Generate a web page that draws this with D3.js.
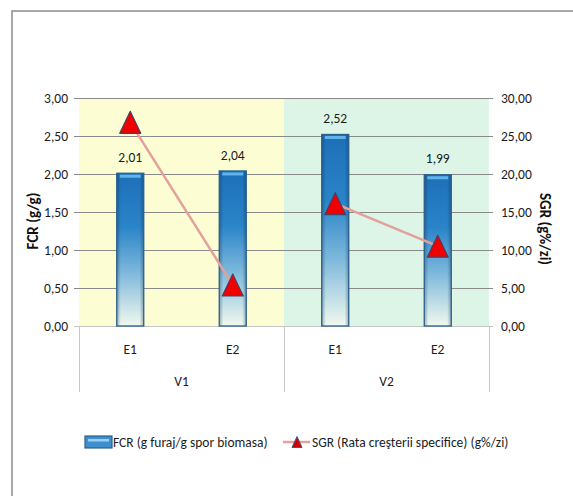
<!DOCTYPE html>
<html>
<head>
<meta charset="utf-8">
<script src="https://cdn.jsdelivr.net/npm/d3@7"></script>
<style>
  body { margin: 0; background: #fff; }
  svg { display: block; font-family: "Carlito", Lato, "Liberation Sans", sans-serif; }
</style>
</head>
<body>
<svg id="chart" width="573" height="496"></svg>
<script>
// Experiment groups and sub-groups
const groups = ["V1", "V2"];
const subgroups = ["E1", "E2", "E1", "E2"];
const groupOf = [0, 0, 1, 1];
// Feed conversion ratio (left axis)
const fcr = [2.01, 2.04, 2.52, 1.99];
// Specific growth rate (right axis)
const sgr = [26.8, 5.4, 16.1, 10.5];
const fcrTicks = [0, 0.5, 1, 1.5, 2, 2.5, 3];
const sgrTicks = [0, 5, 10, 15, 20, 25, 30];
const fcrLegend = "FCR  (g furaj/g spor biomasa)";
const sgrLegend = "SGR (Rata creşterii specifice) (g%/zi)";

const fmt = v => v.toFixed(2).replace(".", ",");
const svg = d3.select("#chart");
const fs = 13.5, ink = "#1c1c1c";

const pLeft = 79, pRight = 489, pTop = 98, pBottom = 326;
const x = d3.scaleBand().domain(d3.range(subgroups.length)).range([pLeft, pRight]);
const yL = d3.scaleLinear().domain([0, 3]).range([pBottom, pTop]);
const yR = d3.scaleLinear().domain([0, 30]).range([pBottom, pTop]);

// outer frame
svg.append("rect").attr("x", 12).attr("y", 11).attr("width", 600).attr("height", 600)
  .attr("fill", "none").attr("stroke", "#8c8c8c").attr("stroke-width", 1.5);

// group background panels
const bg = ["#fdfdd3", "#dcf5e6"];
groups.forEach((g, i) => {
  const idx = d3.range(subgroups.length).filter(k => groupOf[k] === i);
  const x0 = x(idx[0]), x1 = x(idx[idx.length - 1]) + x.bandwidth();
  svg.append("rect").attr("x", x0).attr("y", pTop).attr("width", x1 - x0).attr("height", pBottom - pTop)
    .attr("fill", bg[i]);
});

// gridlines with short ticks on both sides
svg.append("g").selectAll("line").data(fcrTicks.slice(1)).join("line")
  .attr("x1", pLeft - 5).attr("x2", pRight + 4)
  .attr("y1", d => Math.round(yL(d)) + 0.5).attr("y2", d => Math.round(yL(d)) + 0.5)
  .attr("stroke", "#8a8a8a").attr("stroke-width", 1);
svg.append("line").attr("x1", pLeft - 5).attr("x2", pRight + 4)
  .attr("y1", pBottom + 0.5).attr("y2", pBottom + 0.5).attr("stroke", "#c4c4c4");

// category dividers
const divX = [pLeft, x(2), pRight];
svg.append("g").selectAll("line").data(divX).join("line")
  .attr("x1", d => Math.round(d) + 0.5).attr("x2", d => Math.round(d) + 0.5)
  .attr("y1", pBottom).attr("y2", 392).attr("stroke", "#c8c8c8");

// left axis
svg.append("g").selectAll("text").data(fcrTicks).join("text")
  .attr("x", 68).attr("y", d => yL(d)).attr("dy", "0.35em").attr("text-anchor", "end")
  .attr("font-size", fs).attr("fill", ink).text(fmt);
// right axis
svg.append("g").selectAll("text").data(sgrTicks).join("text")
  .attr("x", 501).attr("y", d => yR(d)).attr("dy", "0.35em").attr("text-anchor", "start")
  .attr("font-size", fs).attr("fill", ink).text(fmt);

// axis titles
svg.append("text").attr("transform", `translate(33,221) rotate(-90)`)
  .attr("dy", "0.35em").attr("text-anchor", "middle").attr("font-size", 15).attr("font-weight", "bold")
  .attr("fill", "#111").text("FCR (g/g)");
svg.append("text").attr("transform", `translate(545,229) rotate(90)`)
  .attr("dy", "0.35em").attr("text-anchor", "middle").attr("font-size", 15).attr("font-weight", "bold")
  .attr("fill", "#111").text("SGR (g%/zi)");

// category labels
svg.append("g").selectAll("text").data(subgroups).join("text")
  .attr("x", (d, i) => x(i) + x.bandwidth() / 2).attr("y", 349).attr("dy", "0.35em")
  .attr("text-anchor", "middle").attr("font-size", fs).attr("fill", ink).text(d => d);
svg.append("g").selectAll("text").data(groups).join("text")
  .attr("x", (d, i) => (divX[i] + divX[i + 1]) / 2).attr("y", 381).attr("dy", "0.35em")
  .attr("text-anchor", "middle").attr("font-size", fs).attr("fill", ink).text(d => d);

// bar gradients
const defs = svg.append("defs");
const gv = defs.append("linearGradient").attr("id", "barV").attr("x1", 0).attr("y1", 0).attr("x2", 0).attr("y2", 1);
[[0, "#1d6fb8"], [0.35, "#2a84c8"], [0.65, "#7db8dc"], [1, "#f1f9ee"]]
  .forEach(([o, c]) => gv.append("stop").attr("offset", o).attr("stop-color", c));
const gh = defs.append("linearGradient").attr("id", "barH").attr("x1", 0).attr("y1", 0).attr("x2", 1).attr("y2", 0);
[[0, "#0b2c4a", 0.35], [0.15, "#0b2c4a", 0], [0.85, "#0b2c4a", 0], [1, "#0b2c4a", 0.35]]
  .forEach(([o, c, a]) => gh.append("stop").attr("offset", o).attr("stop-color", c).attr("stop-opacity", a));

const barW = 27;
const bars = svg.append("g").selectAll("g").data(fcr).join("g");
bars.append("rect")
  .attr("x", (d, i) => x(i) + x.bandwidth() / 2 - barW / 2).attr("y", d => yL(d))
  .attr("width", barW).attr("height", d => pBottom - yL(d))
  .attr("fill", "url(#barV)");
bars.append("rect")
  .attr("x", (d, i) => x(i) + x.bandwidth() / 2 - barW / 2).attr("y", d => yL(d))
  .attr("width", barW).attr("height", d => pBottom - yL(d))
  .attr("fill", "url(#barH)");
bars.append("rect")
  .attr("x", (d, i) => x(i) + x.bandwidth() / 2 - barW / 2 + 3).attr("y", d => yL(d) + 1.5)
  .attr("width", barW - 6).attr("height", 3).attr("fill", "#5fb4ea");
bars.append("rect")
  .attr("x", (d, i) => x(i) + x.bandwidth() / 2 - barW / 2).attr("y", d => yL(d))
  .attr("width", barW).attr("height", d => pBottom - yL(d))
  .attr("fill", "none").attr("stroke", "#2b5f8c").attr("stroke-width", 1.3);

// value labels
svg.append("g").selectAll("text").data(fcr).join("text")
  .attr("x", (d, i) => x(i) + x.bandwidth() / 2).attr("y", d => yL(d) - 16).attr("dy", "0.35em")
  .attr("text-anchor", "middle").attr("font-size", fs).attr("fill", ink).text(fmt);

// SGR lines (one per group)
groups.forEach((g, gi) => {
  const idx = d3.range(sgr.length).filter(k => groupOf[k] === gi);
  svg.append("path")
    .attr("d", d3.line().x(k => x(k) + x.bandwidth() / 2).y(k => yR(sgr[k]))(idx))
    .attr("fill", "none").attr("stroke", "#e3a09c").attr("stroke-width", 2.5);
});

// triangle markers
const tri = (cx, cy, w, h) => `M${cx},${cy - h / 2}L${cx + w / 2},${cy + h / 2}L${cx - w / 2},${cy + h / 2}Z`;
svg.append("g").selectAll("path").data(sgr).join("path")
  .attr("d", (d, i) => tri(x(i) + x.bandwidth() / 2, yR(d), 21, 22))
  .attr("fill", "#f00000").attr("stroke", "#4b4063").attr("stroke-width", 1.2)
  .attr("stroke-linejoin", "round");

// legend
const ly = 442;
const lg = svg.append("g");
lg.append("rect").attr("x", 85).attr("y", ly - 6).attr("width", 27).attr("height", 12)
  .attr("fill", "#3d8fd0").attr("stroke", "#2b5f8c").attr("stroke-width", 1.2);
lg.append("rect").attr("x", 88).attr("y", ly - 3).attr("width", 21).attr("height", 2.5).attr("fill", "#9fd0f0");
lg.append("text").attr("x", 113).attr("y", ly).attr("dy", "0.35em").attr("font-size", fs)
  .attr("fill", ink).text(fcrLegend);
lg.append("line").attr("x1", 283).attr("x2", 310).attr("y1", ly).attr("y2", ly)
  .attr("stroke", "#e3a09c").attr("stroke-width", 2.5);
lg.append("path").attr("d", tri(297, ly, 10, 11)).attr("fill", "#d00000")
  .attr("stroke", "#3d5a8c").attr("stroke-width", 1);
lg.append("text").attr("x", 312).attr("y", ly).attr("dy", "0.35em").attr("font-size", fs)
  .attr("fill", ink).text(sgrLegend);
</script>
</body>
</html>
